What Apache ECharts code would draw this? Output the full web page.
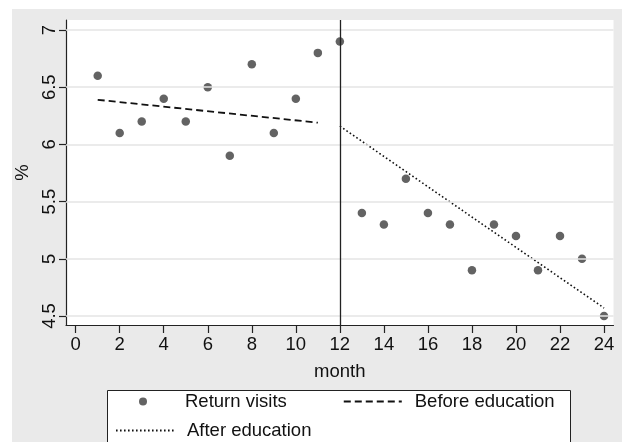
<!DOCTYPE html>
<html>
<head>
<meta charset="utf-8">
<script src="https://cdn.jsdelivr.net/npm/echarts@6/dist/echarts.min.js"></script>
<style>
html,body{margin:0;padding:0;background:#fff;}
#chart{width:622px;height:442px;}
</style>
</head>
<body>
<div id="chart"></div>
<script>
// ---- data ----
var months = [1,2,3,4,5,6,7,8,9,10,11,12,13,14,15,16,17,18,19,20,21,22,23,24];
var returnVisits = [6.6,6.1,6.2,6.4,6.2,6.5,5.9,6.7,6.1,6.4,6.8,6.9,5.4,5.3,5.7,5.4,5.3,4.9,5.3,5.2,4.9,5.2,5.0,4.5];
var beforeFitX = [1, 11];
var beforeFitY = [6.39, 6.19];
var afterFitX = [12, 24];
var afterFitY = [6.16, 4.57];
var xTicks = [0,2,4,6,8,10,12,14,16,18,20,22,24];
var yTicks = [4.5,5,5.5,6,6.5,7];
var interventionMonth = 12;

var FONT = 'Liberation Sans';
var chart = echarts.init(document.getElementById('chart'), null, {renderer:'canvas'});

function pairs(xs, ys){ return xs.map(function(x,i){ return [x, ys[i]]; }); }

var legendText = {fontFamily:FONT, fontSize:18.5, color:'#111', padding:[0,0,0,8]};

var option = {
  animation: false,
  backgroundColor: 'transparent',
  textStyle: {fontFamily: FONT},
  graphic: [
    {type:'rect', z:-10, shape:{x:12, y:9, width:610, height:433}, style:{fill:'#eaeaea'}},
    {type:'rect', z:1, shape:{x:107.5, y:390.5, width:463, height:60}, style:{fill:'#fff', stroke:'#222', lineWidth:1}}
  ],
  grid: {left:66, top:20, right:8.5, bottom:117, show:true, backgroundColor:'#fff', borderWidth:0},
  xAxis: {
    type:'value', min:-0.44, max:24.43,
    name:'month', nameLocation:'middle', nameGap:37,
    nameTextStyle:{fontFamily:FONT, fontSize:18.5, color:'#111'},
    axisLine:{show:true, onZero:false, lineStyle:{color:'#222', width:1.2}},
    axisTick:{show:true, length:8, customValues:xTicks, lineStyle:{color:'#222', width:1.2}},
    axisLabel:{customValues:xTicks, margin:10, fontFamily:FONT, fontSize:18.5, color:'#111'},
    splitLine:{show:false}
  },
  yAxis: {
    type:'value', min:4.4213, max:7.0874,
    name:'%', nameLocation:'middle', nameGap:21, nameRotate:90,
    nameTextStyle:{fontFamily:FONT, fontSize:18.5, color:'#111'},
    axisLine:{show:true, onZero:false, lineStyle:{color:'#222', width:1.2}},
    axisTick:{show:true, length:7, customValues:yTicks, lineStyle:{color:'#222', width:1.2}},
    axisLabel:{customValues:yTicks, rotate:90, margin:7, fontFamily:FONT, fontSize:18.5, color:'#111'},
    splitLine:{show:false}
  },
  legend: [
    {
      data:[
        {name:'Return visits', icon:'circle'},
        {name:'Before education', itemStyle:{opacity:0, color:'rgba(0,0,0,0)'}}
      ],
      left:139, top:392, padding:0, itemGap:56, itemWidth:58, itemHeight:8,
      textStyle:legendText, z:5
    },
    {
      data:[{name:'After education', itemStyle:{opacity:0, color:'rgba(0,0,0,0)'}}],
      left:115, top:421, padding:0, itemGap:56, itemWidth:58, itemHeight:8,
      textStyle:legendText, z:5
    }
  ],
  series: [
    {
      name:'gridlines', type:'line', data:[], z:1, silent:true, symbol:'none',
      markLine:{
        silent:true, symbol:'none', label:{show:false}, animation:false,
        lineStyle:{color:'#e4e4e4', width:1.5, type:'solid'},
        data: yTicks.map(function(v){ return {yAxis:v}; })
      }
    },
    {
      name:'intervention', type:'line', data:[], z:2, silent:true, symbol:'none',
      markLine:{
        silent:true, symbol:'none', label:{show:false}, animation:false,
        lineStyle:{color:'#222', width:1.3, type:'solid'},
        data:[{xAxis:interventionMonth}]
      }
    },
    {
      name:'Before education', type:'line', z:3, symbol:'none',
      data: pairs(beforeFitX, beforeFitY),
      lineStyle:{color:'#111', width:1.8, type:[7,4]},
      itemStyle:{color:'#111'}
    },
    {
      name:'After education', type:'line', z:3, symbol:'none',
      data: pairs(afterFitX, afterFitY),
      lineStyle:{color:'#111', width:1.6, type:[1.6,2.4]},
      itemStyle:{color:'#111'}
    },
    {
      name:'Return visits', type:'scatter', z:4, symbol:'circle', symbolSize:8.5,
      data: pairs(months, returnVisits),
      itemStyle:{color:'#3c3c3c'}
    }
  ]
};
chart.setOption(option);
</script>
</body>
</html>
